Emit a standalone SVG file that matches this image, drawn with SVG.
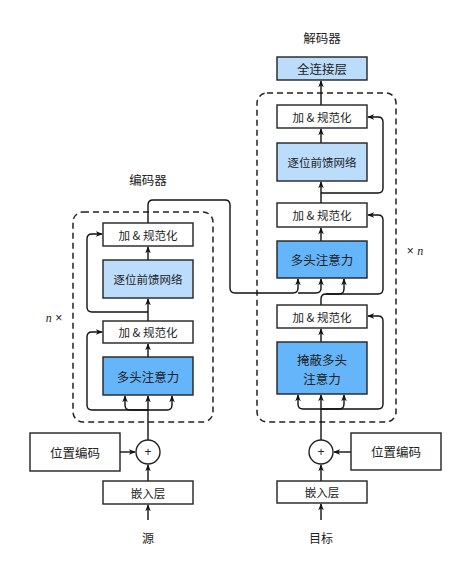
<svg xmlns="http://www.w3.org/2000/svg" width="465" height="563" viewBox="0 0 465 563">
<defs>
<marker id="ah" viewBox="0 0 10 10" refX="9" refY="5" markerWidth="7" markerHeight="7" markerUnits="userSpaceOnUse" orient="auto">
<path d="M0,1 L10,5 L0,9 L3,5 Z" fill="#111"/>
</marker>
<style>
.box{stroke:#222;stroke-width:1.4;fill:#fff}
.lb{fill:#bcdcfc}
.db{fill:#64b5fa}
.t{font-family:"Noto Sans CJK SC","Noto Sans",sans-serif;fill:#222;text-anchor:middle;dominant-baseline:central}
.c{fill:none;stroke:#111;stroke-width:1.4}
.a{marker-end:url(#ah)}
.dash{fill:none;stroke:#222;stroke-width:1.5;stroke-dasharray:6,4}
</style>
</defs>
<rect fill="#fff" width="465" height="563"/>

<text class="t" x="148" y="179" font-size="12.5">编码器</text>
<text class="t" x="322" y="37" font-size="12.5">解码器</text>

<rect class="dash" x="73" y="212" width="140" height="210" rx="10"/>
<rect class="dash" x="257" y="93" width="139" height="329" rx="10"/>

<text x="54" y="318" font-size="12" fill="#222" text-anchor="middle" dominant-baseline="central"><tspan font-family="Liberation Serif,serif" font-style="italic">n</tspan><tspan font-family="Liberation Sans,sans-serif"> ×</tspan></text>
<text x="415" y="251" font-size="12" fill="#222" text-anchor="middle" dominant-baseline="central"><tspan font-family="Liberation Sans,sans-serif">× </tspan><tspan font-family="Liberation Serif,serif" font-style="italic">n</tspan></text>

<g id="connectors">
<path class="c a" d="M148,520 V505"/>
<path class="c a" d="M148,481 V465"/>
<path class="c a" d="M120,452 H135"/>
<path class="c a" d="M148,440 V396"/>
<path class="c a" d="M148,410 H130 Q125,410 125,405 V396"/>
<path class="c a" d="M148,410 H167 Q172,410 172,405 V396"/>
<path class="c a" d="M148,410 H92 Q87,410 87,405 V337 Q87,332 92,332 H102"/>
<path class="c a" d="M148,357 V344"/>
<path class="c a" d="M148,321 V299"/>
<path class="c a" d="M148,312 H92 Q87,312 87,307 V239 Q87,234 92,234 H102"/>
<path class="c a" d="M148,260 V247"/>
<path class="c a" d="M148,223 V205 Q148,200 153,200 H225 Q230,200 230,205 V288 Q230,293 235,293 H293 Q298,293 298,288 V279"/>
<path class="c a" d="M298,293 H316 Q321,293 321,288 V279"/>

<path class="c a" d="M321,520 V504"/>
<path class="c a" d="M321,481 V465"/>
<path class="c a" d="M351,452 H334"/>
<path class="c a" d="M321,440 V395"/>
<path class="c a" d="M321,409 H303 Q298,409 298,404 V395"/>
<path class="c a" d="M321,409 H339 Q344,409 344,404 V395"/>
<path class="c a" d="M321,409 H378 Q383,409 383,404 V321 Q383,316 378,316 H368"/>
<path class="c a" d="M321,342 V329"/>
<path class="c a" d="M321,305 V299 Q321,294 326,294 H378 Q383,294 383,289 V220 Q383,215 378,215 H368"/>
<path class="c a" d="M326,294 H339 Q344,294 344,289 V279"/>
<path class="c a" d="M321,241 V228"/>
<path class="c a" d="M321,203 V182"/>
<path class="c a" d="M321,193 H378 Q383,193 383,188 V122 Q383,117 378,117 H368"/>
<path class="c a" d="M321,143 V129"/>
<path class="c a" d="M321,105 V81"/>
</g>

<g id="enc-addnorm2"><rect class="box" x="103" y="223" width="90" height="23"/><text class="t" x="148" y="234.5" font-size="11.5">加 &amp; 规范化</text></g>
<g id="enc-ffn"><rect class="box lb" x="103" y="260" width="90" height="38"/><text class="t" x="148" y="279" font-size="11.5">逐位前馈网络</text></g>
<g id="enc-addnorm1"><rect class="box" x="103" y="321" width="90" height="22"/><text class="t" x="148" y="332" font-size="11.5">加 &amp; 规范化</text></g>
<g id="enc-mha"><rect class="box db" x="103" y="357" width="90" height="38"/><text class="t" x="148" y="376" font-size="12.5">多头注意力</text></g>
<g id="enc-plus"><circle class="box" cx="148" cy="452" r="12"/><text x="148" y="452" font-size="12" font-family="Liberation Sans,sans-serif" fill="#222" text-anchor="middle" dominant-baseline="central">+</text></g>
<g id="enc-pos"><rect class="box" x="30" y="433" width="90" height="38"/><text class="t" x="75" y="452" font-size="12.5">位置编码</text></g>
<g id="enc-embed"><rect class="box" x="103" y="481" width="90" height="23"/><text class="t" x="148" y="492.5" font-size="11.5">嵌入层</text></g>
<g id="src"><text class="t" x="148" y="537" font-size="12">源</text></g>

<g id="dec-fc"><rect class="box lb" x="277" y="57" width="90" height="23"/><text class="t" x="322" y="68.5" font-size="12.5">全连接层</text></g>
<g id="dec-addnorm3"><rect class="box" x="277" y="105" width="90" height="23"/><text class="t" x="322" y="116.5" font-size="11.5">加 &amp; 规范化</text></g>
<g id="dec-ffn"><rect class="box lb" x="277" y="143" width="90" height="38"/><text class="t" x="322" y="162" font-size="11.5">逐位前馈网络</text></g>
<g id="dec-addnorm2"><rect class="box" x="277" y="203" width="90" height="24"/><text class="t" x="322" y="215" font-size="11.5">加 &amp; 规范化</text></g>
<g id="dec-mha"><rect class="box db" x="277" y="241" width="90" height="37"/><text class="t" x="322" y="259.5" font-size="12.5">多头注意力</text></g>
<g id="dec-addnorm1"><rect class="box" x="277" y="305" width="90" height="23"/><text class="t" x="322" y="316.5" font-size="11.5">加 &amp; 规范化</text></g>
<g id="dec-masked"><rect class="box db" x="277" y="342" width="90" height="52"/><text class="t" x="322" y="359" font-size="12.5">掩蔽多头</text><text class="t" x="322" y="378" font-size="12.5">注意力</text></g>
<g id="dec-plus"><circle class="box" cx="321" cy="452" r="12"/><text x="321" y="452" font-size="12" font-family="Liberation Sans,sans-serif" fill="#222" text-anchor="middle" dominant-baseline="central">+</text></g>
<g id="dec-pos"><rect class="box" x="351" y="433" width="90" height="37"/><text class="t" x="396" y="451.5" font-size="12.5">位置编码</text></g>
<g id="dec-embed"><rect class="box" x="277" y="481" width="90" height="22"/><text class="t" x="322" y="492" font-size="11.5">嵌入层</text></g>
<g id="tgt"><text class="t" x="321" y="537" font-size="12">目标</text></g>
</svg>
